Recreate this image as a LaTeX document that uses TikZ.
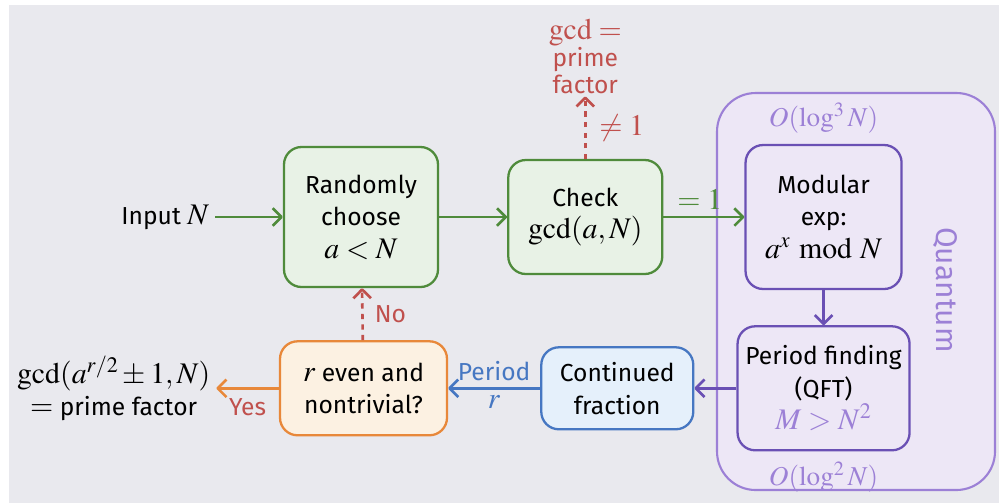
\documentclass[tikz,border=0pt]{standalone}
\usepackage{mathptmx}
\usepackage[no-math]{fontspec}
\setmainfont{Fira Sans}
\usetikzlibrary{positioning,arrows.meta}

\definecolor{pagegray}{HTML}{E9E9EE}
\definecolor{clgreen}{HTML}{4F8B3B}
\definecolor{clgreenbg}{HTML}{E8F2E6}
\definecolor{failred}{HTML}{C0504D}
\definecolor{qpurple}{HTML}{9C80D6}
\definecolor{qpurplebg}{HTML}{EDE7F6}
\definecolor{qdark}{HTML}{6A50B4}
\definecolor{postblue}{HTML}{4677C2}
\definecolor{postbluebg}{HTML}{E5F0FB}
\definecolor{testorange}{HTML}{E8883A}
\definecolor{testorangebg}{HTML}{FCF1E2}

\newcommand{\boxfont}{\fontsize{14}{18.5}\selectfont}
\newcommand{\bigmath}{\fontsize{17}{20}\selectfont}
\tikzset{
  every node/.style={text=black, font=\boxfont},
  block/.style={rounded corners=10pt, line width=1.3pt, align=center, inner sep=2pt},
  classical/.style={block, draw=clgreen, fill=clgreenbg},
  quantumstep/.style={block, draw=qdark, fill=qpurplebg},
  postproc/.style={block, draw=postblue, fill=postbluebg},
  decision/.style={block, draw=testorange, fill=testorangebg},
  flow/.style={-{Straight Barb[length=5pt, width=10pt, line join=round]}, line width=1.5pt},
  retry/.style={flow, dashed, draw=failred}
}

\begin{document}
\begin{tikzpicture}
  % page
  \useasboundingbox (0,0) rectangle (19.98,-10.06);
  \fill[pagegray] (0.18,-0.1) rectangle (19.98,-10.06);

  % quantum part of the algorithm
  \draw[rounded corners=22pt, line width=1.2pt, draw=qpurple, fill=qpurplebg] (14.34,-1.86) rectangle (19.9,-9.8);
  \node (qlabel) [rotate=-90, text=qpurple, font=\fontsize{17}{20}\selectfont] at (18.9,-5.8) {Quantum};

  % Nodes
  \node (random) [classical, minimum width=3.08cm, minimum height=2.8cm] at (7.22,-4.34) {
    Randomly\\ choose\\ {\bigmath $a<N$}
  };
  \node (check) [classical, right=1.36cm of random, minimum width=3.08cm, minimum height=2.28cm] {
    Check\\ {\bigmath $\gcd(a,N)$}
  };
  \node (modexp) [quantumstep, right=1.62cm of check, minimum width=3.12cm, minimum height=2.88cm] {
    Modular\\ exp:\\ {\bigmath $a^x \bmod N$}
  };
  \node (period) [quantumstep, below=0.7cm of modexp, minimum width=3.44cm, minimum height=2.48cm] {
    Period finding\\ (QFT)\\ {\bigmath\color{qpurple}$M>N^2$}
  };
  \node (contfrac) [postproc, left=0.84cm of period, minimum width=3.04cm, minimum height=1.64cm] {
    Continued\\ fraction
  };
  \node (reven) [decision, left=1.84cm of contfrac, minimum width=3.34cm, minimum height=1.88cm] {
    {\bigmath $r$} even and\\ nontrivial?
  };

  \node (input) [left=1.35cm of random] {Input {\bigmath $N$}};
  \node (result) [left=1.25cm of reven, align=center] {
    {\bigmath $\gcd(a^{r/2}\pm1,N)$}\\ {\bigmath $=$} prime factor
  };
  \node (gcdhit) [above=1.25cm of check, text=failred, align=center, inner sep=1pt, font=\fontsize{14}{15.5}\selectfont] {
    {\bigmath $\gcd=$}\\ prime\\ factor
  };
  \node (cubic) [above=0.08cm of modexp, text=qpurple] {\fontsize{15.5}{18}\selectfont $O(\log^3 N)$};
  \node (square) [below=0.08cm of period, text=qpurple] {\fontsize{15.5}{18}\selectfont $O(\log^2 N)$};

  % connectors
  \draw[flow, draw=clgreen] (input) -- (random);
  \draw[flow, draw=clgreen] (random) -- (check);
  \draw[flow, draw=clgreen] (check) -- node[pos=0.45, above, text=clgreen] {\bigmath $=1$} (modexp);
  \draw[retry] (check) -- node[right=4pt, text=failred] {\bigmath $\neq1$} (gcdhit);
  \draw[flow, draw=qdark] (modexp) -- (period);
  \draw[flow, draw=qdark] (period) -- (contfrac);
  \draw[flow, draw=postblue] (contfrac) -- node[above, text=postblue] {Period} node[below, text=postblue] {\bigmath $r$} (reven);
  \draw[flow, draw=testorange] (reven) -- node[below=2pt, text=failred] {Yes} (result);
  \draw[retry] (reven) -- node[right=3pt, text=failred] {No} (random);
\end{tikzpicture}
\end{document}
